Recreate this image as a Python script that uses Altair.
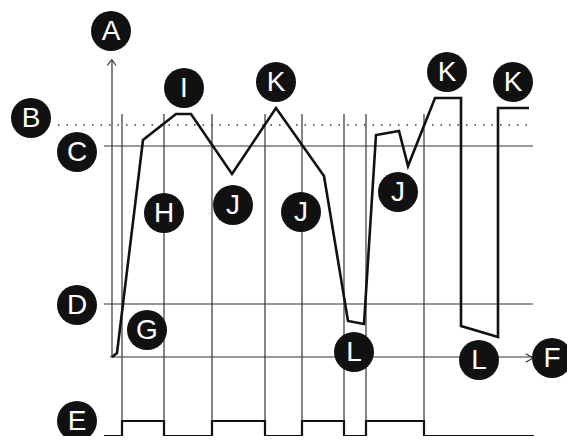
import altair as alt
import pandas as pd

# Diagram coordinates (page pixel units, y downward)
curve_x = [112, 117, 143, 176, 191, 232, 276, 324, 348, 364, 376, 399, 408, 435, 461, 461, 498, 498, 529]
curve_y = [357, 353, 140, 114, 114, 174, 108, 176, 321, 324, 135, 131, 166, 98, 98, 326, 337, 108, 108]

sig_x = [104, 122, 122, 164, 164, 212, 212, 265, 265, 302, 302, 344, 344, 366, 366, 424, 424, 534]
sig_y = [436, 436, 421, 421, 436, 436, 421, 421, 436, 436, 421, 421, 436, 436, 421, 421, 436, 436]

vline_x = [122, 164, 212, 265, 302, 344, 366, 424]
vline_top = 114
vline_bottom = 436

hline_names = ["C", "D", "axis"]
hline_y = [146, 304, 357]
hline_x1 = [104, 104, 110]
hline_x2 = [533, 533, 533]

dotted_y = 125
dotted_x1 = 58
dotted_x2 = 530

yaxis_x = 112
yaxis_top = 60
yaxis_bottom = 357

arrow_x1 = [107.3, 116.0, 525.7, 525.7]
arrow_y1 = [65.5, 65.5, 353.7, 362.3]
arrow_x2 = [111.7, 111.7, 533.3, 533.3]
arrow_y2 = [59.5, 59.5, 358.0, 358.0]

labels = ["A", "B", "C", "I", "K", "H", "J", "J", "J", "K", "K", "D", "G", "E", "L", "L", "F"]
label_x = [111, 31, 77, 184, 276, 164, 233, 301, 398, 447, 513, 77, 147, 77, 354, 479, 552]
label_y = [31, 118, 152, 88, 82, 213, 205, 212, 192, 72, 82, 305, 330, 421, 352, 360, 358]

W, H = 559, 428
xs = alt.Scale(domain=[8, 8 + W], nice=False, zero=False)
ys = alt.Scale(domain=[8 + H, 8], nice=False, zero=False)


def X(f):
    return alt.X(f, type="quantitative", scale=xs, axis=None)


def Y(f):
    return alt.Y(f, type="quantitative", scale=ys, axis=None)


hdf = pd.DataFrame({"name": hline_names, "y": hline_y, "x1": hline_x1, "x2": hline_x2})
hl = alt.Chart(hdf).mark_rule(color="#333333", strokeWidth=1.2).encode(
    x=X("x1"), x2="x2", y=Y("y"))

ddf = pd.DataFrame({"y": [dotted_y], "x1": [dotted_x1], "x2": [dotted_x2]})
dl = alt.Chart(ddf).mark_rule(color="#333333", strokeWidth=1.5, strokeDash=[1.5, 7]).encode(
    x=X("x1"), x2="x2", y=Y("y"))

vdf = pd.DataFrame({"x": vline_x, "y1": [vline_top] * len(vline_x), "y2": [vline_bottom] * len(vline_x)})
vl = alt.Chart(vdf).mark_rule(color="#333333", strokeWidth=1.2).encode(
    x=X("x"), y=Y("y1"), y2="y2")

yadf = pd.DataFrame({"x": [yaxis_x], "y1": [yaxis_top], "y2": [yaxis_bottom]})
ya = alt.Chart(yadf).mark_rule(color="#333333", strokeWidth=1.2).encode(
    x=X("x"), y=Y("y1"), y2="y2")

adf = pd.DataFrame({"x1": arrow_x1, "y1": arrow_y1, "x2": arrow_x2, "y2": arrow_y2})
ar = alt.Chart(adf).mark_rule(color="#333333", strokeWidth=1.2).encode(
    x=X("x1"), y=Y("y1"), x2="x2", y2="y2")

sdf = pd.DataFrame({"x": sig_x, "y": sig_y, "o": list(range(len(sig_x)))})
sg = alt.Chart(sdf).mark_line(color="#111111", strokeWidth=2.2, strokeJoin="miter").encode(
    x=X("x"), y=Y("y"), order="o:Q")

cdf = pd.DataFrame({"x": curve_x, "y": curve_y, "o": list(range(len(curve_x)))})
cv = alt.Chart(cdf).mark_line(color="#111111", strokeWidth=2.6, strokeJoin="miter").encode(
    x=X("x"), y=Y("y"), order="o:Q")

ldf = pd.DataFrame({"t": labels, "x": label_x, "y": label_y})
circ = alt.Chart(ldf).mark_circle(color="#111111", opacity=1, size=1600).encode(
    x=X("x"), y=Y("y"))
txt = alt.Chart(ldf).mark_text(color="white", font="Liberation Sans", fontSize=28,
                               baseline="middle", dy=1).encode(
    x=X("x"), y=Y("y"), text="t:N")

chart = alt.layer(hl, dl, vl, ya, ar, sg, cv, circ, txt).properties(
    width=W, height=H, padding=0, autosize="none"
).configure_view(stroke=None)

chart.save("out.html", embed_options={"renderer": "svg", "actions": False})
